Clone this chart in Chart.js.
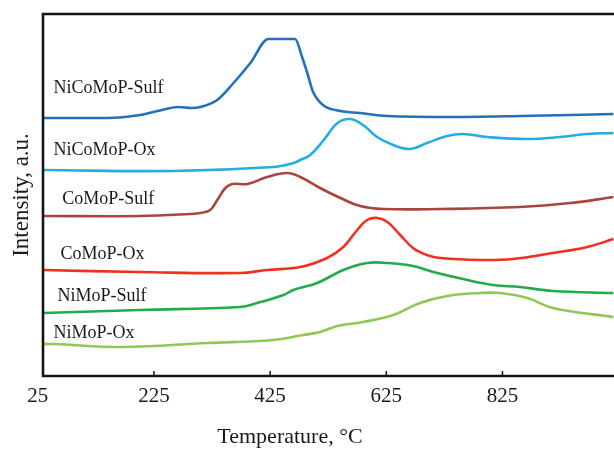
<!DOCTYPE html>
<html>
<head>
<meta charset="utf-8">
<script src="https://cdn.jsdelivr.net/npm/chart.js@4/dist/chart.umd.min.js"></script>
<style>
  html, body { margin: 0; padding: 0; background: #ffffff; }
  #wrap { width: 614px; height: 449px; }
</style>
</head>
<body>
<div id="wrap"><canvas id="c" width="614" height="449"></canvas></div>
<script>
// ---- data (temperature in °C, intensity in arbitrary units) ----
const seriesNames = ['NiCoMoP-Sulf', 'NiCoMoP-Ox', 'CoMoP-Sulf', 'CoMoP-Ox', 'NiMoP-Sulf', 'NiMoP-Ox'];

const nicomopSulfT = [35, 145, 201, 231, 267, 290, 305, 334, 362, 391, 422, 445, 468, 480, 489, 499, 516, 546, 580, 627, 740, 855, 1016];
const nicomopSulfI = [258, 258, 261, 265, 269, 268, 269, 276, 293, 313, 337, 337, 337, 319, 303, 284, 271, 265, 263, 260, 259, 260, 262];

const nicomopOxT = [35, 258, 430, 465, 477, 494, 516, 541, 563, 585, 609, 637, 666, 695, 730, 757, 799, 868, 924, 971, 1016];
const nicomopOxI = [206, 205, 209, 213, 216, 221, 235, 253, 257, 251, 239, 231, 227, 233, 240, 242, 239, 237, 239, 242, 243];

const comopSulfT = [35, 201, 288, 305, 322, 334, 348, 360, 386, 420, 454, 477, 511, 546, 580, 620, 718, 855, 942, 1016];
const comopSulfI = [160, 160, 162, 163, 166, 176, 188, 192, 192, 199, 203, 199, 188, 178, 170, 167, 167, 169, 173, 179];

const comopOxT = [35, 201, 373, 420, 477, 523, 551, 575, 592, 609, 627, 649, 671, 695, 718, 787, 843, 912, 971, 1016];
const comopOxI = [106, 104, 103, 106, 109, 118, 129, 146, 156, 158, 154, 141, 128, 121, 118, 116, 117, 123, 129, 137];

const nimopSulfT = [35, 201, 373, 403, 448, 465, 506, 551, 592, 627, 671, 706, 757, 809, 855, 912, 1016];
const nimopSulfI = [63, 66, 69, 73, 81, 86, 93, 106, 113, 113, 110, 104, 97, 91, 89, 85, 83];

const nimopOxT = [35, 52, 172, 317, 430, 482, 511, 541, 585, 637, 683, 730, 787, 821, 868, 912, 1016];
const nimopOxI = [32, 32, 29, 33, 36, 41, 44, 50, 54, 61, 73, 80, 83, 83, 78, 68, 59];

const xTickValues = [25, 225, 425, 625, 825];

// label anchors (temperature, intensity) for the in-plot series names
const labelTemps = [52, 52, 67, 64, 59, 52];
const labelLevels = [288, 226, 177, 122, 80, 43];

// ---- styling ----
const colors = ['#2470bd', '#25ace4', '#a8453f', '#f2301f', '#22aa4c', '#8fc856'];
const serif = '"Liberation Serif", "Times New Roman", serif';

function pts(t, v) { return t.map((x, i) => ({ x: x, y: v[i] })); }
const allT = [nicomopSulfT, nicomopOxT, comopSulfT, comopOxT, nimopSulfT, nimopOxT];
const allI = [nicomopSulfI, nicomopOxI, comopSulfI, comopOxI, nimopSulfI, nimopOxI];

const datasets = seriesNames.map((name, k) => {
  const ds = {
    label: name,
    data: pts(allT[k], allI[k]),
    borderColor: colors[k],
    backgroundColor: colors[k],
    borderWidth: 2.6,
    pointRadius: 0,
    fill: false,
    tension: 0.4
  };
  if (k === 0) ds.cubicInterpolationMode = 'monotone'; // flat-topped (saturated) peak
  return ds;
});

const decor = {
  id: 'decor',
  afterDatasetsDraw(chart) {
    const ctx = chart.ctx;
    const a = chart.chartArea;
    const xs = chart.scales.x, ys = chart.scales.y;
    ctx.save();
    // frame (left, top, bottom)
    ctx.strokeStyle = '#141414';
    ctx.lineWidth = 2.6;
    ctx.beginPath();
    ctx.moveTo(a.right + 2, a.top);
    ctx.lineTo(a.left, a.top);
    ctx.lineTo(a.left, a.bottom);
    ctx.lineTo(a.right + 2, a.bottom);
    ctx.stroke();
    // inward tick marks on the bottom axis
    ctx.lineWidth = 1.5;
    xTickValues.forEach(v => {
      const px = xs.getPixelForValue(v);
      if (px > a.left + 1 && px < a.right) {
        ctx.beginPath();
        ctx.moveTo(px, a.bottom);
        ctx.lineTo(px, a.bottom - 5);
        ctx.stroke();
      }
    });
    // series names
    ctx.fillStyle = '#1a1a1a';
    ctx.font = '18px ' + serif;
    ctx.textAlign = 'left';
    ctx.textBaseline = 'middle';
    seriesNames.forEach((name, k) => {
      ctx.fillText(name, xs.getPixelForValue(labelTemps[k]), ys.getPixelForValue(labelLevels[k]));
    });
    // axis titles
    ctx.font = '22px ' + serif;
    ctx.textAlign = 'center';
    ctx.fillText('Temperature, °C', 290, 437);
    ctx.translate(22, (a.top + a.bottom) / 2);
    ctx.rotate(-Math.PI / 2);
    ctx.font = '23px ' + serif;
    ctx.fillText('Intensity, a.u.', 0, 0);
    ctx.restore();
  }
};

new Chart(document.getElementById('c'), {
  type: 'line',
  data: { datasets: datasets },
  options: {
    responsive: false,
    animation: false,
    devicePixelRatio: 1,
    layout: { padding: { left: 43, top: 14, right: 0, bottom: 0 } },
    plugins: { legend: { display: false }, tooltip: { enabled: false } },
    scales: {
      x: {
        type: 'linear',
        min: 34,
        max: 1017,
        afterBuildTicks(scale) { scale.ticks = xTickValues.map(v => ({ value: v })); },
        afterFit(scale) { scale.height = 73; },
        grid: { display: false, drawTicks: false },
        border: { display: false },
        ticks: {
          autoSkip: false,
          maxRotation: 0,
          padding: 8,
          color: '#1a1a1a',
          font: { family: serif, size: 21 },
          callback: v => String(v)
        }
      },
      y: {
        display: false,
        min: 0,
        max: 362
      }
    }
  },
  plugins: [decor]
});
</script>
</body>
</html>
